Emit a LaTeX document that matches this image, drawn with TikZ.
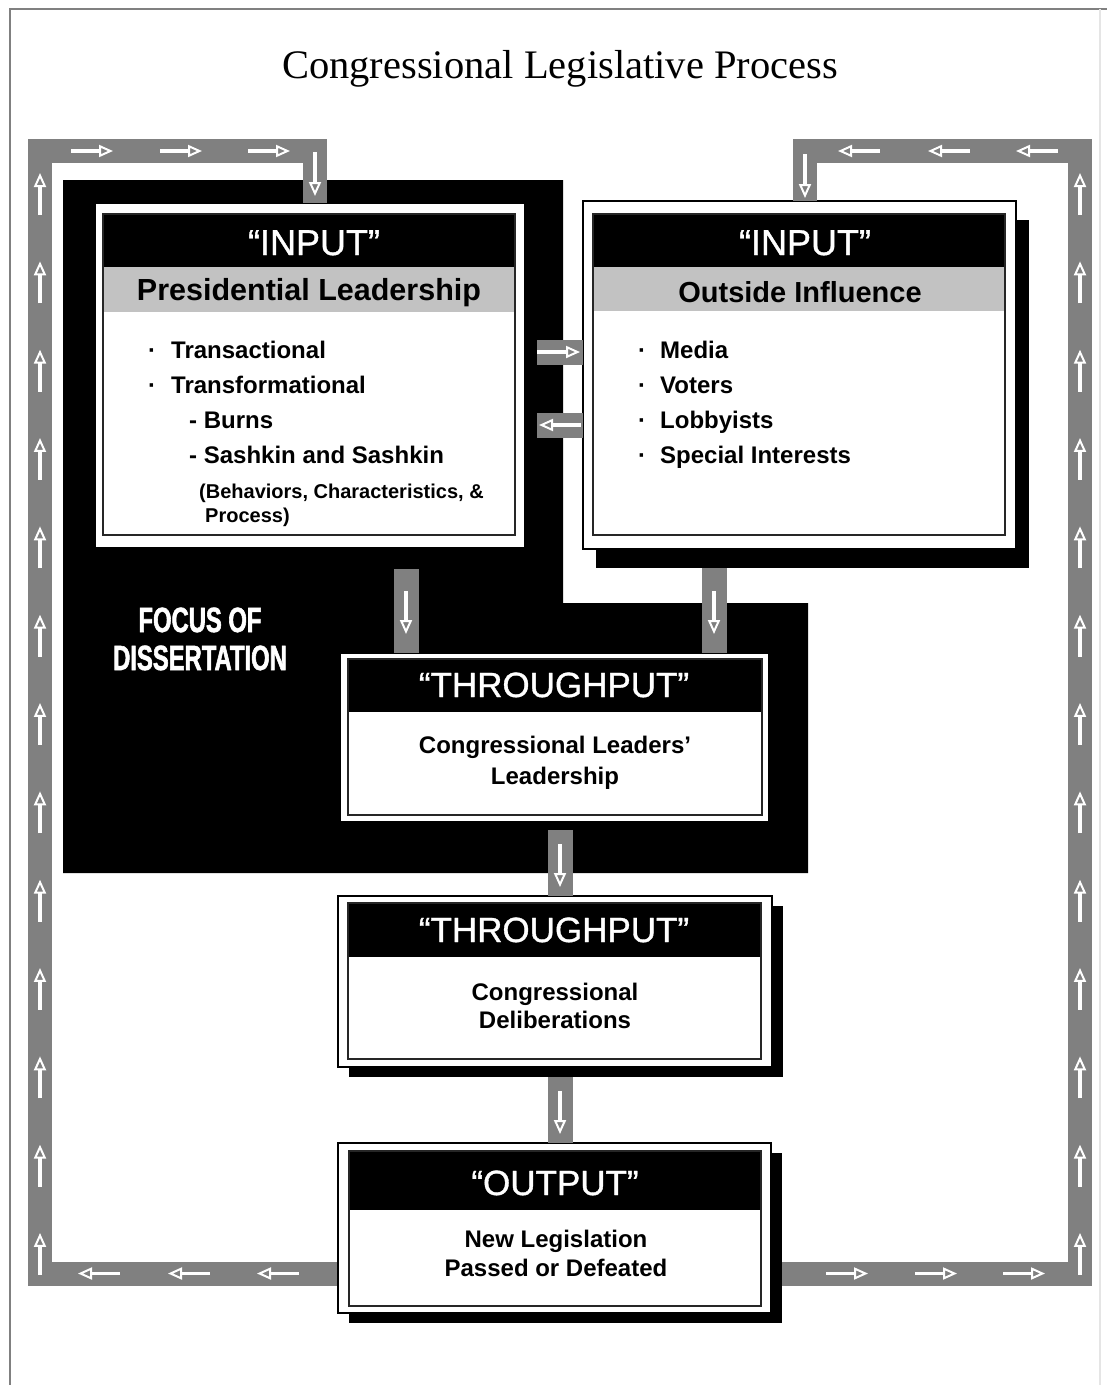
\documentclass[tikz,border=0pt]{standalone}
\usepackage{fontspec}
\setmainfont{Liberation Sans}
\newfontfamily\titlefont{Liberation Serif}
\newfontfamily\hdrfont{Liberation Sans}[FakeBold=1]
\newfontfamily\focusfont{Liberation Sans}[FakeStretch=0.68, FakeBold=1.6]
\usetikzlibrary{arrows.meta,calc}
\definecolor{bandgray}{gray}{0.5}
\definecolor{subgray}{gray}{0.76}
\definecolor{pagegray}{gray}{0.5}
\newcommand\setfs[1]{\fontsize{#1}{#1}\selectfont}
\tikzset{
  band/.style={draw=bandgray, line width=24pt, line join=miter},
  stub/.style={draw=bandgray, line width=25pt},
  wa/.style={draw=white, line width=3.2pt, -{Triangle[open, length=14pt, width=12pt, line width=2pt]}},
  outerframe/.style={draw=black, line width=2pt, fill=white, inner sep=0pt, outer sep=0pt},
  innerbox/.style={draw=black!85, line width=1.6pt},
  hdr/.style={anchor=base, inner sep=0pt, text=white, font=\hdrfont\setfs{36}},
  subhdr/.style={anchor=base, inner sep=0pt, font=\setfs{30}\bfseries},
  body/.style={anchor=base west, inner sep=0pt, font=\setfs{24}\bfseries},
  bodyc/.style={anchor=base, inner sep=0pt, font=\setfs{24}\bfseries},
  smallt/.style={anchor=base west, inner sep=0pt, font=\setfs{20}\bfseries},
  focus/.style={anchor=base, inner sep=0pt, text=white, font=\focusfont\bfseries\setfs{35}},
}
\begin{document}
\begin{tikzpicture}[x=1pt,y=-1pt]
\useasboundingbox (0,0) rectangle (1107,1385);
\fill[white] (0,0) rectangle (1107,1385);
% page border
\draw[pagegray, line width=2.5pt] (10,1385) -- (10,9) -- (1107,9);
\draw[black!10, line width=1.5pt] (1100,9) -- (1100,1385);

% title
\node[anchor=base, inner sep=0pt, font=\titlefont\setfs{40.5}] (title) at (560,78) {Congressional Legislative Process};

% focus region
\fill[black] (63,180) -- (563,180) -- (563,603) -- (808,603) -- (808,873) -- (63,873) -- cycle;
\node[focus] (focus1) at (200,632) {FOCUS OF};
\node[focus] (focus2) at (200,670) {DISSERTATION};

% boxes (outer frames) --------------------------------------------
\node[outerframe, minimum width=430pt, minimum height=345pt] (presO) at (310,375.5) {};
\fill[black] (596,220) rectangle (1029,568);
\node[outerframe, minimum width=433pt, minimum height=348pt] (outsO) at (799.5,375) {};
\node[outerframe, minimum width=429pt, minimum height=169pt] (thrO) at (554.5,737.5) {};
\fill[black] (349,906) rectangle (783,1077);
\node[outerframe, minimum width=434pt, minimum height=171pt] (delO) at (555,981.5) {};

% feedback loops (start under the output box)
\coordinate (lbo) at (555,1273.5);
\coordinate (lb) at (40,1273.5);
\coordinate (tl) at (40,151);
\coordinate (rb) at (1080,1273.5);
\coordinate (tr) at (1080,151);
\draw[band] (lbo) -- (lb) -- (tl) -| ([xshift=5pt]presO.north);
\draw[band] (lbo) -- (rb) -- (tr) -| ([xshift=5.5pt]outsO.north);

% output box
\fill[black] (349,1153) rectangle (782,1323);
\node[outerframe, minimum width=433pt, minimum height=170pt] (outO) at (554.5,1228) {};

% inner boxes ---------------------------------------------------------
\fill[black] (103,214) rectangle (515,267);
\fill[subgray] (103,267) rectangle (515,312);
\draw[innerbox] (103,214) rectangle (515,535);
\fill[black] (593,214) rectangle (1005,267);
\fill[subgray] (593,267) rectangle (1005,311);
\draw[innerbox] (593,214) rectangle (1005,535);
\fill[black] (348,659) rectangle (762,712);
\draw[innerbox] (348,659) rectangle (762,815);
\fill[black] (348,903) rectangle (761,957);
\draw[innerbox] (348,903) rectangle (761,1059);
\fill[black] (349,1151) rectangle (761,1210);
\draw[innerbox] (349,1151) rectangle (761,1306);

% texts -----------------------------------------------------------------
\node[hdr] (presH) at (314,255) {“INPUT”};
\node[subhdr, font=\setfs{30.5}\bfseries] (presS) at (309,300) {Presidential Leadership};
\node[body] (pb1) at (148,358) {·};
\node[body] (pt1) at (171,358) {Transactional};
\node[body] (pb2) at (148,393) {·};
\node[body] (pt2) at (171,393) {Transformational};
\node[body] (pt3) at (189,428) {- Burns};
\node[body] (pt4) at (189,463) {- Sashkin and Sashkin};
\node[smallt] (pt5) at (199,498) {(Behaviors, Characteristics, \&};
\node[smallt] (pt6) at (205,522) {Process)};

\node[hdr] (outsH) at (805,255) {“INPUT”};
\node[subhdr, font=\setfs{29}\bfseries] (outsS) at (800,302) {Outside Influence};
\node[body] (ob1) at (638,358) {·};
\node[body] (ot1) at (660,358) {Media};
\node[body] (ob2) at (638,393) {·};
\node[body] (ot2) at (660,393) {Voters};
\node[body] (ob3) at (638,428) {·};
\node[body] (ot3) at (660,428) {Lobbyists};
\node[body] (ob4) at (638,463) {·};
\node[body] (ot4) at (660,463) {Special Interests};

\node[hdr, font=\hdrfont\setfs{35}] (thrH) at (554,697) {“THROUGHPUT”};
\node[bodyc] (thrT1) at (555,753) {Congressional Leaders’};
\node[bodyc] (thrT2) at (555,784) {Leadership};

\node[hdr, font=\hdrfont\setfs{35}] (delH) at (554,942) {“THROUGHPUT”};
\node[bodyc] (delT1) at (555,1000) {Congressional};
\node[bodyc] (delT2) at (555,1028) {Deliberations};

\node[hdr, font=\hdrfont\setfs{35}] (outH) at (555,1195) {“OUTPUT”};
\node[bodyc] (outT1) at (556,1247) {New Legislation};
\node[bodyc] (outT2) at (556,1276) {Passed or Defeated};

% connector stubs ------------------------------------------------------
\coordinate (s1) at (537,352);
\coordinate (s2) at (537,425);
\coordinate (s3) at (406,569);
\coordinate (s4) at (714,568);
\coordinate (s5) at (560,830);
\coordinate (s6) at (560,1077);
\draw[stub] (s1) -- (s1 -| outsO.west);
\draw[stub] (s2) -- (s2 -| outsO.west);
\draw[stub] (s3) -- (s3 |- thrO.north);
\draw[stub] (s4) -- (s4 |- thrO.north);
\draw[stub] (s5) -- (s5 |- delO.north);
\draw[stub] (s6) -- (s6 |- outO.north);

% white arrows -----------------------------------------------------------
\draw[wa] (537,352) -- (580,352);
\draw[wa] (581,425) -- (539,425);
\draw[wa] (406,591) -- (406,634);
\draw[wa] (714,591) -- (714,634);
\draw[wa] (560,844) -- (560,887);
\draw[wa] (560,1091) -- (560,1134);
\draw[wa] (315,152) -- (315,196);
\draw[wa] (805,154) -- (805,198);
\foreach \c in {92,181,269} \draw[wa] (\c-21,151) -- (\c+21,151);
\foreach \c in {859,949,1037} \draw[wa] (\c+21,151) -- (\c-21,151);
\foreach \c in {99,189,278} \draw[wa] (\c+21,1273.5) -- (\c-21,1273.5);
\foreach \c in {847,936,1024} \draw[wa] (\c-21,1273.5) -- (\c+21,1273.5);
\foreach \k in {0,...,12} {
  \draw[wa] (40,194+88.33*\k+21) -- (40,194+88.33*\k-21);
  \draw[wa] (1080,194+88.33*\k+21) -- (1080,194+88.33*\k-21);
}
\end{tikzpicture}
\end{document}
